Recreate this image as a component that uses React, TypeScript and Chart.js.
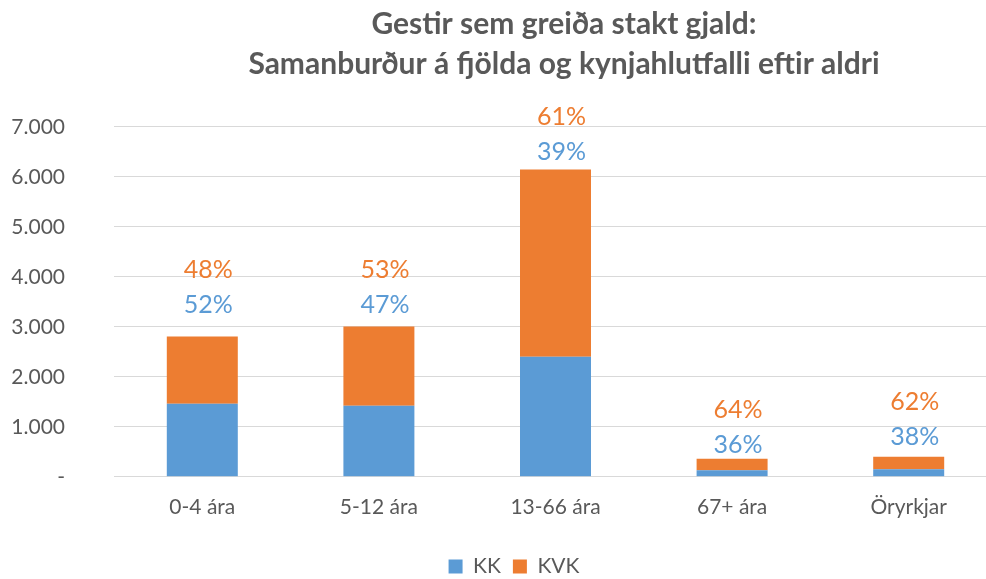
import React, { useEffect, useRef } from 'react';
import { Chart, registerables } from 'chart.js';

Chart.register(...registerables);

const categories = ['0-4 ára', '5-12 ára', '13-66 ára', '67+ ára', 'Öryrkjar'];
const kkValues = [1460, 1420, 2400, 130, 152];
const kvkValues = [1345, 1590, 3750, 230, 248];
// value-axis level where the percentage labels sit
const labelLevels = [3440, 3440, 6500, 630, 800];
const yMax = 7000;
const yStep = 1000;
const titleLines = ['Gestir sem greiða stakt gjald:', 'Samanburður á fjölda og kynjahlutfalli eftir aldri'];
const seriesNames = ['KK', 'KVK'];

const BLUE = '#5B9BD5';
const ORANGE = '#ED7D31';
const TEXT = '#595959';
const GRID = '#D9D9D9';
const FONT = 'Lato, "Open Sans", sans-serif';

const fmt = (v: number) => (v === 0 ? '-' : String(v).replace(/\B(?=(\d{3})+(?!\d))/g, '.'));

const pctLabels = {
  id: 'pctLabels',
  afterDatasetsDraw(chart: any) {
    const ctx = chart.ctx;
    const meta = chart.getDatasetMeta(1);
    const y = chart.scales.y;
    ctx.save();
    ctx.font = `25px ${FONT}`;
    ctx.textAlign = 'center';
    ctx.textBaseline = 'middle';
    categories.forEach((_, i) => {
      const total = kkValues[i] + kvkValues[i];
      const pk = Math.round((kkValues[i] / total) * 100);
      const pv = Math.round((kvkValues[i] / total) * 100);
      const x = meta.data[i].x + 6;
      const yy = y.getPixelForValue(labelLevels[i]);
      ctx.fillStyle = BLUE;
      ctx.fillText(`${pk}%`, x, yy);
      ctx.fillStyle = ORANGE;
      ctx.fillText(`${pv}%`, x, yy - 35);
    });
    ctx.restore();
  },
};

const legendShift = {
  id: 'legendShift',
  afterUpdate(chart: any) {
    const lg = chart.legend;
    if (lg) {
      lg.left -= 50;
      lg.right -= 50;
    }
  },
};

export default function App() {
  const ref = useRef<HTMLCanvasElement>(null);
  useEffect(() => {
    if (!ref.current) return;
    const chart = new Chart(ref.current, {
      type: 'bar',
      data: {
        labels: categories,
        datasets: [
          { label: seriesNames[0], data: kkValues, backgroundColor: BLUE, categoryPercentage: 1, barPercentage: 0.402, yAxisID: 'y' },
          { label: seriesNames[1], data: kvkValues, backgroundColor: ORANGE, categoryPercentage: 1, barPercentage: 0.402, yAxisID: 'y' },
        ],
      },
      options: {
        responsive: false,
        animation: false,
        layout: { padding: { top: 0, bottom: -8, left: 0, right: 0 } },
        plugins: {
          title: {
            display: true,
            text: titleLines,
            color: TEXT,
            font: { family: FONT, size: 30, weight: 'bold', lineHeight: 1.333 },
            padding: { top: 4, bottom: 43 },
          },
          legend: {
            position: 'bottom',
            labels: {
              color: TEXT,
              font: { family: FONT, size: 21 },
              boxWidth: 14,
              boxHeight: 14,
              padding: 12,
            },
          },
          tooltip: { enabled: false },
        },
        scales: {
          x: {
            stacked: true,
            grid: { display: false },
            border: { display: true, color: GRID },
            ticks: { color: TEXT, font: { family: FONT, size: 21 }, padding: 10 },
            afterFit: (s: any) => { s.height += 14; },
          },
          y: {
            stacked: true,
            min: 0,
            max: yMax,
            position: 'left',
            grid: { color: GRID, drawTicks: false },
            border: { display: false },
            ticks: {
              stepSize: yStep,
              color: TEXT,
              font: { family: FONT, size: 21 },
              padding: 49,
              callback: (v: any) => fmt(Number(v)),
            },
            afterFit: (s: any) => { s.width = 114; },
          },
          yRight: {
            position: 'right',
            display: true,
            grid: { display: false, drawTicks: false },
            border: { display: false },
            ticks: { display: false },
            afterFit: (s: any) => { s.width = 131; },
          },
        },
      },
      plugins: [pctLabels, legendShift],
    } as any);
    return () => chart.destroy();
  }, []);
  return (
    <div style={{ position: 'absolute', left: 0, top: 0, width: 986, height: 579, overflow: 'hidden', background: '#fff' }}>
      <canvas ref={ref} width={1128} height={579} />
    </div>
  );
}
